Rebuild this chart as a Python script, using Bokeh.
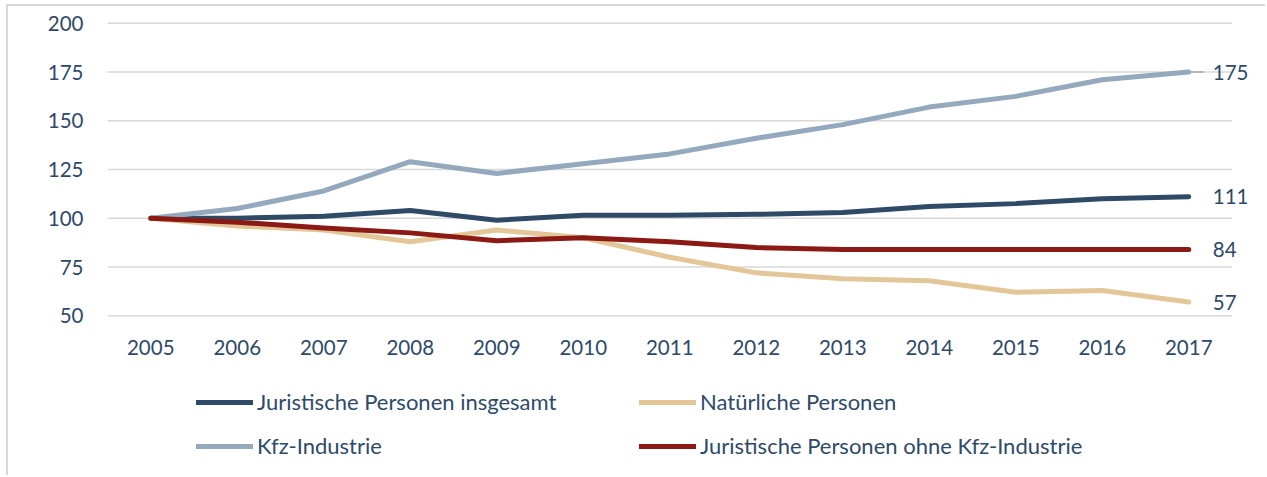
from bokeh.plotting import figure
from bokeh.models import Range1d, FixedTicker, Legend, LegendItem
from bokeh.layouts import column
from bokeh.embed import file_html
from bokeh.resources import INLINE
from bokeh.core.properties import value

years = ["2005", "2006", "2007", "2008", "2009", "2010", "2011",
         "2012", "2013", "2014", "2015", "2016", "2017"]
juristische = [100, 100, 101, 104, 99, 101.5, 101.5, 102, 103, 106, 107.5, 110, 111]
natuerlich = [100, 96, 94, 88, 94, 90, 80, 72, 69, 68, 62, 63, 57]
kfz = [100, 105, 114, 129, 123, 128, 133, 141, 148, 157, 162.5, 171, 175]
ohne_kfz = [100, 98, 95, 92.5, 88.5, 90, 88, 85, 84, 84, 84, 84, 84]
y_ticks = [50, 75, 100, 125, 150, 175, 200]

series_names = ["Juristische Personen insgesamt", "Natürliche Personen",
                "Kfz-Industrie", "Juristische Personen ohne Kfz-Industrie"]
series_values = [juristische, natuerlich, kfz, ohne_kfz]
series_colors = ["#2F4A66", "#E3C799", "#94A9BD", "#8B1A14"]

TEXT = "#2E4A68"
GRID = "#D9D9D9"
FONT = "Lato"
FS = "20.5px"
FS_LEGEND = "22px"

W, H = 1257, 369
left, right, top, bottom = 99, 0, 7, 50
step = 86.5
frame_w = W - left - right
x = list(range(len(years)))

p = figure(width=W, height=H, output_backend="svg", toolbar_location=None,
           x_range=Range1d(-0.5, -0.5 + frame_w / step),
           y_range=Range1d(45, 205),
           min_border_left=left, min_border_right=right,
           min_border_top=top, min_border_bottom=bottom)
p.outline_line_color = None
p.xgrid.visible = False
p.ygrid.visible = False

# gridlines spanning the category band
p.segment(x0=[-0.5] * len(y_ticks), x1=[len(years) - 0.5] * len(y_ticks),
          y0=y_ticks, y1=y_ticks, line_color=GRID, line_width=1.5)

for ax in (p.xaxis[0], p.yaxis[0]):
    ax.axis_line_color = None
    ax.major_tick_line_color = None
    ax.minor_tick_line_color = None
    ax.major_label_text_font = FONT
    ax.major_label_text_font_size = FS
    ax.major_label_text_color = TEXT

p.xaxis.ticker = FixedTicker(ticks=x)
p.xaxis.major_label_overrides = {i: y for i, y in enumerate(years)}
p.xaxis.major_label_standoff = 8
p.yaxis.ticker = FixedTicker(ticks=y_ticks)
p.yaxis.major_label_standoff = 18

# leader line for the Kfz end label
p.ray(x=[x[-1]], y=[kfz[-1]], length=15, length_units="screen", angle=0,
      line_color="#A6A6A6", line_width=1.5)

for name, vals, col in zip(series_names, series_values, series_colors):
    p.line(x, vals, line_color=col, line_width=5, line_cap="round", line_join="round")

# end labels
end_vals = [juristische[-1], natuerlich[-1], kfz[-1], ohne_kfz[-1]]
p.text(x=[x[-1]] * 4, y=end_vals, text=[f"{v:.0f}" for v in end_vals],
       x_offset=24, text_baseline="middle", text_align="left",
       text_font=value(FONT), text_font_size=FS, text_color=TEXT)

# legend panel (separate figure below the chart)
q = figure(width=W, height=100, output_backend="svg", toolbar_location=None,
           x_range=Range1d(-0.5, 0), y_range=Range1d(0, 1),
           x_axis_type=None, y_axis_type=None, min_border=0)
q.outline_line_color = None
q.xgrid.visible = False
q.ygrid.visible = False
legend_renderers = []
for name, vals, col in zip(series_names, series_values, series_colors):
    r = q.line(x, vals, line_color=col, line_width=5, line_cap="round", line_join="round")
    legend_renderers.append(r)

def make_legend(idx, xloc):
    return Legend(items=[LegendItem(label=series_names[i], renderers=[legend_renderers[i]]) for i in idx],
                  location=(xloc, 16), orientation="vertical",
                  background_fill_alpha=0, border_line_color=None,
                  padding=0, margin=0, spacing=17,
                  glyph_width=57, glyph_height=24, label_height=24,
                  label_standoff=4,
                  label_text_font=FONT, label_text_font_size=FS_LEGEND,
                  label_text_color=TEXT)

q.add_layout(make_legend([0, 2], 89))
q.add_layout(make_legend([1, 3], 532))

layout = column(p, q, spacing=0)
layout.styles = {"border-top": "2px solid #D9D9D9", "border-left": "2px solid #D9D9D9",
                 "margin-left": "6px", "margin-top": "4px"}

open("out.html", "w").write(file_html(layout, INLINE))
